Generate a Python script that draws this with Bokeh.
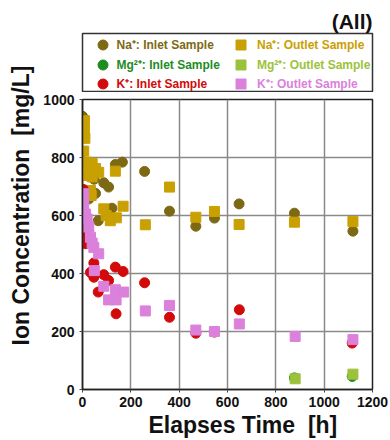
import math
from bokeh.plotting import figure
from bokeh.models import Legend, LegendItem, Range1d, FixedTicker, Title
from bokeh.core.properties import value
from bokeh.layouts import column, row
from bokeh.embed import file_html
from bokeh.resources import INLINE

# ---- data (elapsed time [h], concentration [mg/L]) ----
na_in_t = [0, 5, 26, 48, 54, 65, 88, 108, 122, 136, 165, 257, 360, 469, 546, 648, 877, 1119]
na_in_c = [942, 785, 657, 725, 676, 582, 713, 698, 625, 776, 784, 752, 615, 563, 591, 640, 608, 546]

na_out_t = [8, 8, 10, 5, 19, 40, 26, 54, 67, 19, 40, 136, 360, 33, 36, 88, 98, 115, 140, 168, 260, 469, 546, 648, 877, 1119]
na_out_c = [927, 893, 866, 822, 784, 779, 755, 762, 749, 738, 733, 753, 698, 686, 669, 623, 600, 582, 592, 632, 568, 594, 614, 569, 577, 579]

mg_in_t = [877, 1116]
mg_in_c = [40, 45]
mg_out_t = [880, 1119]
mg_out_c = [37, 53]

k_in_t = [3, 2, 5, 12, 47, 33, 47, 88, 108, 65, 136, 168, 257, 139, 360, 469, 546, 649, 1116]
k_in_c = [690, 565, 537, 503, 436, 404, 387, 396, 376, 336, 422, 407, 368, 261, 249, 194, 198, 275, 160]

k_out_t = [5, 5, 12, 19, 26, 33, 40, 47, 67, 49, 88, 136, 170, 108, 139, 260, 360, 469, 546, 649, 880, 1119]
k_out_c = [675, 640, 605, 588, 560, 525, 505, 490, 468, 410, 356, 344, 336, 309, 309, 271, 290, 205, 200, 226, 183, 172]

x_ticks = [0, 200, 400, 600, 800, 1000, 1200]
y_ticks = [0, 200, 400, 600, 800, 1000]

labels = ["Na\u207a: Inlet Sample", "Na\u207a: Outlet Sample",
          "Mg\u00b2\u207a: Inlet Sample", "Mg\u00b2\u207a: Outlet Sample",
          "K\u207a: Inlet Sample", "K\u207a: Outlet Sample"]
y_label = "Ion Concentration \u00a0[mg/L]"
x_label = "Elapses Time \u00a0[h]"
panel_title = "(All)"

C_NA_IN = "#7d6914"
C_NA_OUT = "#c9a002"
C_MG_IN = "#1e8c1e"
C_MG_OUT = "#9cc23c"
C_K_IN = "#d20a0a"
C_K_OUT = "#db80db"

FONT = "Liberation Sans"
S = 10
LEFT_W = 40
LEG_H = 92

# ---------------- y-label strip ----------------
yl = figure(width=LEFT_W, height=440, output_backend="svg", toolbar_location=None,
            x_range=Range1d(0, LEFT_W), y_range=Range1d(0, 440),
            min_border=0, x_axis_type=None, y_axis_type=None)
yl.grid.visible = False
yl.outline_line_color = None
yl.text(x=[20], y=[235], text=[y_label], angle=math.pi / 2,
        text_align="center", text_baseline="middle",
        text_font=value(FONT), text_font_style="bold", text_font_size="23px",
        text_color="#111111")

# ---------------- main chart ----------------
p = figure(width=390 - LEFT_W, height=440 - LEG_H, output_backend="svg", toolbar_location=None,
           x_range=Range1d(0, 1200), y_range=Range1d(0, 1000),
           min_border_left=82 - LEFT_W, min_border_right=17, min_border_top=99 - LEG_H,
           min_border_bottom=51)
p.background_fill_color = "white"
p.border_fill_color = "white"
p.outline_line_color = "#222222"
p.outline_line_width = 1.5

for ax, ticks in ((p.xaxis[0], x_ticks), (p.yaxis[0], y_ticks)):
    ax.ticker = FixedTicker(ticks=ticks)
    ax.major_label_text_font = FONT
    ax.major_label_text_font_style = "bold"
    ax.major_label_text_font_size = "14px"
    ax.major_label_text_color = "#111111"
    ax.axis_line_color = "#222222"
    ax.axis_line_width = 1.5
    ax.major_tick_in = 0
    ax.major_tick_out = 3
    ax.major_tick_line_color = "#444444"
    ax.minor_tick_line_color = None
p.xaxis.major_label_standoff = 4
p.yaxis.major_label_standoff = 5

p.grid.grid_line_color = "#8a8a8a"
p.grid.grid_line_width = 1.5

p.scatter(na_in_t, na_in_c, marker="circle", size=S, color=C_NA_IN)
p.scatter(na_out_t, na_out_c, marker="square", size=S, color=C_NA_OUT)
p.scatter(mg_in_t, mg_in_c, marker="circle", size=S, color=C_MG_IN)
p.scatter(mg_out_t, mg_out_c, marker="square", size=S, color=C_MG_OUT)
p.scatter(k_in_t, k_in_c, marker="circle", size=S, color=C_K_IN)
p.scatter(k_out_t, k_out_c, marker="square", size=S, color=C_K_OUT)

p.add_layout(Title(text=x_label, align="left", offset=66, standoff=0,
                   text_font=FONT, text_font_style="bold", text_font_size="23px",
                   text_color="#111111"), "below")

# ---------------- legend panel ----------------
lg_fig = figure(width=390 - LEFT_W, height=LEG_H, output_backend="svg", toolbar_location=None,
                x_range=Range1d(0, 1), y_range=Range1d(0, 1),
                min_border_left=82 - LEFT_W, min_border_right=18, min_border_top=33, min_border_bottom=1,
                x_axis_type=None, y_axis_type=None)
lg_fig.grid.visible = False
lg_fig.outline_line_color = "#333333"
lg_fig.outline_line_width = 1.5
lg_fig.border_fill_color = "white"
lg_fig.title.text = panel_title
lg_fig.title.align = "right"
lg_fig.title.text_font = FONT
lg_fig.title.text_font_style = "bold"
lg_fig.title.text_font_size = "21px"
lg_fig.title.text_color = "#111111"
lg_fig.title.standoff = 2

styles = [("circle", C_NA_IN), ("square", C_NA_OUT), ("circle", C_MG_IN),
          ("square", C_MG_OUT), ("circle", C_K_IN), ("square", C_K_OUT)]
col_x = [7.5, 146]
col_standoff = [2, 4]
row_y = [34.5, 14.5, -4.5]
for i, (lab, (mk, col)) in enumerate(zip(labels, styles)):
    cx, ry = i % 2, i // 2
    # legend swatch renderer: a single point kept outside the visible range
    r = lg_fig.scatter(x=[-5], y=[-5], marker=mk, size=S, color=col)
    lg = Legend(items=[LegendItem(label=lab, renderers=[r])],
                location=(col_x[cx], row_y[ry]),
                glyph_width=25, glyph_height=25, label_standoff=col_standoff[cx],
                padding=0, margin=0, spacing=0,
                border_line_color=None, background_fill_alpha=0,
                label_text_font=FONT, label_text_font_style="bold",
                label_text_font_size="12px", label_text_color=col)
    lg_fig.add_layout(lg)

layout = row(yl, column(lg_fig, p, spacing=0), spacing=0)
open("out.html", "w").write(file_html(layout, INLINE))
